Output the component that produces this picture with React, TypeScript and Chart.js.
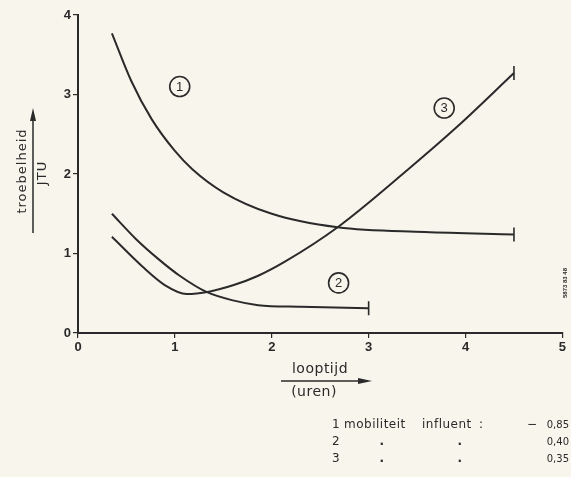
import React, { useEffect, useRef } from 'react';
import { Chart, registerables } from 'chart.js';

Chart.register(...registerables);

// ---- data ----
const curve1X = [0.35, 0.55, 0.76, 1.0, 1.18, 1.5, 2.0, 2.68, 3.58, 4.5];
const curve1Y = [3.77, 3.17, 2.69, 2.29, 2.06, 1.77, 1.5, 1.33, 1.27, 1.24];

const curve2X = [0.35, 0.6, 0.84, 1.05, 1.32, 1.6, 1.86, 2.3, 3.0];
const curve2Y = [1.5, 1.18, 0.92, 0.72, 0.52, 0.41, 0.35, 0.33, 0.31];

const curve3X = [0.35, 0.67, 0.9, 1.12, 1.35, 1.6, 1.86, 2.14, 2.68, 3.4, 3.91, 4.5];
const curve3Y = [1.21, 0.83, 0.6, 0.49, 0.52, 0.6, 0.72, 0.9, 1.33, 2.05, 2.59, 3.27];

const curveNames = ['1', '2', '3'];
const curveLabelX = [1.05, 2.69, 3.78];
const curveLabelY = [3.1, 0.63, 2.83];

const xMin = 0, xMax = 5, yMin = 0, yMax = 4;

const yTitle = 'troebelheid';
const yUnit = 'JTU';
const xTitle = 'looptijd';
const xUnit = '(uren)';

const legendNums = ['1', '2', '3'];
const legendCol1 = ['mobiliteit', '.', '.'];
const legendCol2 = ['influent', '.', '.'];
const legendSigns = ['−', '', ''];
const legendVals = ['0,85', '0,40', '0,35'];
const figCode = '5873 83 48';

const INK = '#2a2a2a';
const PAPER = '#f7f5ec';
const FONT = "'Liberation Sans', Arial, sans-serif";
const TFONT = "'DejaVu Sans', sans-serif";

function pts(xs: number[], ys: number[]) {
  return xs.map((x, i) => ({ x, y: ys[i] }));
}

export default function App() {
  const ref = useRef<HTMLCanvasElement | null>(null);

  useEffect(() => {
    document.body.style.margin = '0';
    document.body.style.background = PAPER;
    const canvas = ref.current!;
    const endMarker = (len: number) => (c: any) => (c.dataIndex === len - 1 ? 7 : 0);

    const mkSet = (xs: number[], ys: number[]) => ({
      data: pts(xs, ys),
      borderColor: INK,
      backgroundColor: INK,
      borderWidth: 2,
      tension: 0.4,
      cubicInterpolationMode: 'monotone' as const,
      pointStyle: 'line' as const,
      rotation: 90,
      pointRadius: endMarker(xs.length),
      pointBorderColor: INK,
      pointBorderWidth: 1.6,
      pointHoverRadius: 0,
      fill: false,
    });

    const decor = {
      id: 'decor',
      beforeDraw(chart: any) {
        const ctx = chart.ctx;
        ctx.save();
        ctx.fillStyle = PAPER;
        ctx.fillRect(0, 0, chart.width, chart.height);
        ctx.restore();
      },
      afterDatasetsDraw(chart: any) {
        const ctx = chart.ctx;
        const xs = chart.scales.x;
        const ys = chart.scales.y;
        ctx.save();
        ctx.strokeStyle = INK;
        ctx.fillStyle = INK;
        // circled curve numbers
        curveNames.forEach((n, i) => {
          const px = xs.getPixelForValue(curveLabelX[i]);
          const py = ys.getPixelForValue(curveLabelY[i]);
          ctx.lineWidth = 1.6;
          ctx.beginPath();
          ctx.arc(px, py, 10, 0, Math.PI * 2);
          ctx.stroke();
          ctx.font = `13px ${FONT}`;
          ctx.textAlign = 'center';
          ctx.textBaseline = 'middle';
          ctx.fillText(n, px, py + 0.5);
        });

        // y-axis title
        ctx.letterSpacing = '1px';
        ctx.save();
        ctx.translate(23, 171);
        ctx.rotate(-Math.PI / 2);
        ctx.font = `13px ${TFONT}`;
        ctx.textAlign = 'center';
        ctx.textBaseline = 'middle';
        ctx.fillText(yTitle, 0, 0);
        ctx.restore();
        ctx.save();
        ctx.translate(43, 173);
        ctx.rotate(-Math.PI / 2);
        ctx.font = `13px ${TFONT}`;
        ctx.textAlign = 'center';
        ctx.textBaseline = 'middle';
        ctx.fillText(yUnit, 0, 0);
        ctx.restore();
        ctx.lineWidth = 1.5;
        ctx.beginPath();
        ctx.moveTo(33, 233);
        ctx.lineTo(33, 118);
        ctx.stroke();
        ctx.beginPath();
        ctx.moveTo(33, 108);
        ctx.lineTo(30, 121);
        ctx.lineTo(36, 121);
        ctx.closePath();
        ctx.fill();

        // x-axis title
        ctx.font = `14px ${TFONT}`;
        ctx.letterSpacing = '0.5px';
        ctx.textAlign = 'center';
        ctx.textBaseline = 'middle';
        ctx.fillText(xTitle, 320, 369);
        ctx.fillText(xUnit, 314, 392);
        ctx.beginPath();
        ctx.moveTo(281, 381);
        ctx.lineTo(360, 381);
        ctx.stroke();
        ctx.beginPath();
        ctx.moveTo(372, 381);
        ctx.lineTo(358, 378);
        ctx.lineTo(358, 384);
        ctx.closePath();
        ctx.fill();

        // legend text
        ctx.textBaseline = 'middle';
        const rowY = [425, 442, 459];
        legendNums.forEach((n, i) => {
          const y = rowY[i];
          ctx.font = `12px ${TFONT}`;
          ctx.letterSpacing = '0.5px';
          ctx.textAlign = 'left';
          ctx.fillText(n, 332, y);
          if (i === 0) {
            ctx.fillText(legendCol1[i], 344, y);
            ctx.fillText(legendCol2[i], 422, y);
            ctx.fillText(':', 479, y);
            ctx.fillText(legendSigns[i], 527, y);
          } else {
            ctx.textAlign = 'center';
            ctx.font = `bold 12px ${TFONT}`;
            ctx.fillText(legendCol1[i], 382, y);
            ctx.fillText(legendCol2[i], 460, y);
          }
          ctx.letterSpacing = '0px';
          ctx.textAlign = 'right';
          ctx.font = `10px ${TFONT}`;
          ctx.fillText(legendVals[i], 569, y);
        });

        // figure code
        ctx.letterSpacing = '0px';
        ctx.save();
        ctx.translate(565, 283);
        ctx.rotate(-Math.PI / 2);
        ctx.font = `bold 6px ${FONT}`;
        ctx.textAlign = 'center';
        ctx.textBaseline = 'middle';
        ctx.fillText(figCode, 0, 0);
        ctx.restore();

        ctx.restore();
      },
    };

    const chart = new Chart(canvas, {
      type: 'line',
      data: {
        datasets: [mkSet(curve1X, curve1Y), mkSet(curve2X, curve2Y), mkSet(curve3X, curve3Y)],
      },
      options: {
        animation: false,
        responsive: false,
        events: [],
        layout: { padding: { top: 15, right: 5, left: 0, bottom: 0 } },
        plugins: { legend: { display: false }, tooltip: { enabled: false }, title: { display: false } },
        scales: {
          x: {
            type: 'linear',
            min: xMin,
            max: xMax,
            ticks: { stepSize: 1, color: INK, font: { family: FONT, size: 13, weight: 'bold' }, padding: 2, maxRotation: 0 },
            grid: { drawOnChartArea: false, drawTicks: true, tickLength: 5, color: INK, lineWidth: 1.2 },
            border: { display: true, color: INK, width: 2 },
            afterFit: (s: any) => { s.height = 144; },
          },
          y: {
            type: 'linear',
            min: yMin,
            max: yMax,
            ticks: { stepSize: 1, color: INK, font: { family: FONT, size: 13, weight: 'bold' }, padding: 2 },
            grid: { drawOnChartArea: false, drawTicks: true, tickLength: 5, color: INK, lineWidth: 1.2 },
            border: { display: true, color: INK, width: 2 },
            afterFit: (s: any) => { s.width = 78; },
          },
        },
      },
      plugins: [decor],
    } as any);

    return () => chart.destroy();
  }, []);

  return (
    <div style={{ position: 'fixed', left: 0, top: 0, width: 571, height: 477, background: PAPER }}>
      <canvas ref={ref} width={571} height={477} style={{ display: 'block', width: 571, height: 477 }} />
    </div>
  );
}
